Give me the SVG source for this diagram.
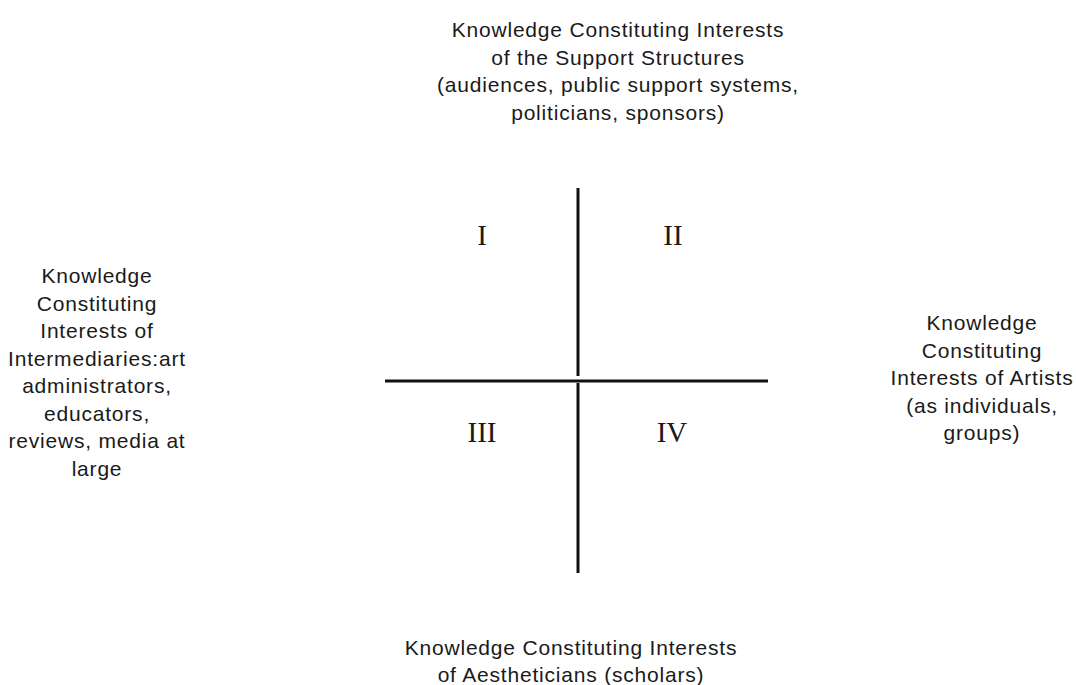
<svg xmlns="http://www.w3.org/2000/svg" width="1076" height="685" viewBox="0 0 1076 685">
<style>
.lbl{font-family:"Liberation Sans",Arial,sans-serif;font-size:21px;letter-spacing:0.8px;fill:#1a1a1a;text-anchor:middle}
.num{font-family:"Liberation Serif","Times New Roman",serif;font-size:29px;fill:#1a1a1a;text-anchor:middle}
.ax{stroke:#111;stroke-width:3;fill:none}
</style>
<rect width="1076" height="685" fill="#fff"/>
<g id="connectors">
<line class="ax" x1="578" y1="188" x2="578" y2="376"/>
<line class="ax" x1="578" y1="383" x2="578" y2="573"/>
<line class="ax" x1="385" y1="381" x2="768" y2="381"/>
</g>
<g id="top">
<text class="lbl" y="37"><tspan x="618">Knowledge Constituting Interests</tspan><tspan x="618" dy="27.7">of the Support Structures</tspan><tspan x="618" dy="27.7">(audiences, public support systems,</tspan><tspan x="618" dy="27.7">politicians, sponsors)</tspan></text>
</g>
<g id="left">
<text class="lbl" y="283"><tspan x="97">Knowledge</tspan><tspan x="97" dy="27.5">Constituting</tspan><tspan x="97" dy="27.5">Interests of</tspan><tspan x="97" dy="27.5">Intermediaries:art</tspan><tspan x="97" dy="27.5">administrators,</tspan><tspan x="97" dy="27.5">educators,</tspan><tspan x="97" dy="27.5">reviews, media at</tspan><tspan x="97" dy="27.5">large</tspan></text>
</g>
<g id="right">
<text class="lbl" y="330"><tspan x="982">Knowledge</tspan><tspan x="982" dy="27.5">Constituting</tspan><tspan x="982" dy="27.5">Interests of Artists</tspan><tspan x="982" dy="27.5">(as individuals,</tspan><tspan x="982" dy="27.5">groups)</tspan></text>
</g>
<g id="bottom">
<text class="lbl" y="655"><tspan x="571">Knowledge Constituting Interests</tspan><tspan x="571" dy="26.5">of Aestheticians (scholars)</tspan></text>
</g>
<g id="q1"><text class="num" x="482" y="245">I</text></g>
<g id="q2"><text class="num" x="673" y="245">II</text></g>
<g id="q3"><text class="num" x="482" y="442">III</text></g>
<g id="q4"><text class="num" x="672" y="442">IV</text></g>
</svg>
